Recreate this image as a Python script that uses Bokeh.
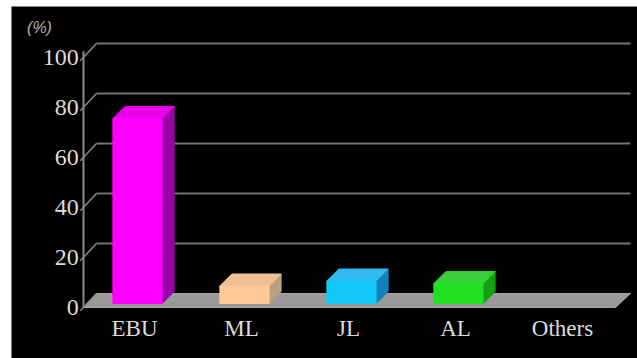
import numpy as np
from bokeh.plotting import figure
from bokeh.models import ColumnDataSource, Range1d
from bokeh.core.properties import value
from bokeh.embed import file_html
from bokeh.resources import INLINE

# ---- data ----
categories = ["EBU", "ML", "JL", "AL", "Others"]
shares = [74, 7, 9, 8, 0]
front_colors = ["#ff00ff", "#ffc898", "#12c8f8", "#22e022", "#9a9a9a"]
top_colors = ["#e800e8", "#f2c090", "#30b8f0", "#38d038", "#9a9a9a"]
side_colors = ["#9a00aa", "#b8a080", "#1080c0", "#10a010", "#9a9a9a"]
y_ticks = [0, 20, 40, 60, 80, 100]
y_tick_labels = ["0", "20", "40", "60", "80", "100"]
unit_label = "(%)"

# ---- geometry (data units) ----
PX_X = 107.0   # px per category
PX_Y = 2.5     # px per percent
axis_x = (83 - 134) / PX_X
wall_dx, wall_dy = 13 / PX_X, 14 / PX_Y
bar_dx, bar_dy = 12 / PX_X, 12 / PX_Y
bar_shift_x, bar_base = 3 / PX_X, 1.6
half_w = 0.23
grid_end = (630 - 134) / PX_X
floor_end = (615 - 134) / PX_X

p = figure(frame_width=626, frame_height=352, min_border_left=11, min_border_top=6,
           min_border_right=0, min_border_bottom=0,
           x_range=Range1d((11 - 134) / PX_X, (637 - 134) / PX_X),
           y_range=Range1d(-51 / PX_Y, 301 / PX_Y),
           x_axis_location=None, y_axis_location=None,
           toolbar_location=None, output_backend="svg",
           background_fill_color="black", border_fill_color="white",
           outline_line_color=None)
p.grid.visible = False

# floor
p.patch([axis_x, floor_end, grid_end, axis_x + wall_dx], [0, 0, wall_dy, wall_dy],
        fill_color="#9a9a9a", line_color="#a8a8a8", line_width=1)

# back wall grid lines
gt = [t for t in y_ticks if t > 0]
p.segment(x0=[axis_x + wall_dx] * len(gt), y0=[t + wall_dy for t in gt],
          x1=[grid_end] * len(gt), y1=[t + wall_dy for t in gt],
          line_color="#747474", line_width=2)
# diagonal ticks
p.segment(x0=[axis_x - 0.03] * len(y_ticks), y0=[t - 1.3 for t in y_ticks],
          x1=[axis_x + wall_dx] * len(y_ticks), y1=[t + wall_dy for t in y_ticks],
          line_color="#8a8a8a", line_width=1.5)
# axis line
p.segment(x0=[axis_x], y0=[0], x1=[axis_x], y1=[y_ticks[-1] + 2.5],
          line_color="#8a8a8a", line_width=2)

# bars
fx, fy, tx, ty, sx, sy = [], [], [], [], [], []
fc, tc, sc = [], [], []
for i, (v, c1, c2, c3) in enumerate(zip(shares, front_colors, top_colors, side_colors)):
    if v <= 0:
        continue
    xl = i + bar_shift_x - half_w
    xr = i + bar_shift_x + half_w
    yb = bar_base
    yt = bar_base + v
    fx.append([xl, xr, xr, xl]); fy.append([yb, yb, yt, yt])
    tx.append([xl, xr, xr + bar_dx, xl + bar_dx]); ty.append([yt, yt, yt + bar_dy, yt + bar_dy])
    sx.append([xr, xr + bar_dx, xr + bar_dx, xr]); sy.append([yb, yb + bar_dy, yt + bar_dy, yt])
    fc.append(c1); tc.append(c2); sc.append(c3)
p.patches(sx, sy, fill_color=sc, line_color=sc)
p.patches(tx, ty, fill_color=tc, line_color=tc)
p.patches(fx, fy, fill_color=fc, line_color=fc)

# tick labels
p.text(x=[axis_x - 0.045] * len(y_ticks), y=y_ticks, text=y_tick_labels,
       text_align="right", text_baseline="middle", text_color="#dcdcdc",
       text_font=value("Liberation Serif"), text_font_size="24px")
# unit label
p.text(x=[(39 - 134) / PX_X], y=[(307 - 27) / PX_Y], text=[unit_label],
       text_align="center", text_baseline="middle", text_color="#b4b4b4",
       text_font=value("Liberation Sans"), text_font_style="italic", text_font_size="16px")
# category labels
p.text(x=list(range(len(categories))), y=[(307 - 328) / PX_Y] * len(categories), text=categories,
       text_align="center", text_baseline="middle", text_color="#dcdcdc",
       text_font=value("Liberation Serif"), text_font_size="23px")

open("out.html", "w").write(file_html(p, INLINE))
